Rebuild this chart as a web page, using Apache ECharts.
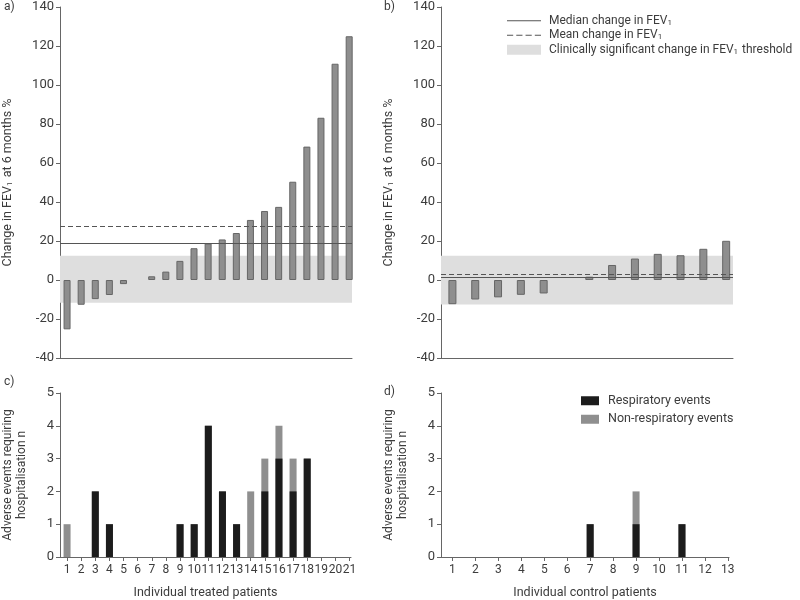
<!DOCTYPE html>
<html>
<head>
<meta charset="utf-8">
<title>FEV1 change and adverse events</title>
<script src="https://cdn.jsdelivr.net/npm/echarts@6/dist/echarts.min.js"></script>
<style>
  html, body { margin: 0; padding: 0; background: #fff; }
  #chart { width: 800px; height: 600px; }
</style>
</head>
<body>
<div id="chart"></div>
<script>
// patient numbers on the x axes
const treatedIds = [1, 2, 3, 4, 5, 6, 7, 8, 9, 10, 11, 12, 13, 14, 15, 16, 17, 18, 19, 20, 21]
const controlIds = [1, 2, 3, 4, 5, 6, 7, 8, 9, 10, 11, 12, 13]

// a) / b) change in FEV1 at 6 months, %
const treatedFevChange = [-25.3, -12.7, -9.8, -7.7, -2.1, null, 1.9, 4.3, 9.8, 16.3, 18.7, 20.8, 24.1, 30.8, 35.4, 37.5, 50.4, 68.4, 83.2, 110.9, 125]
const controlFevChange = [-12.4, -10, -8.9, -7.6, -6.9, null, 1.7, 7.7, 11, 13.4, 12.7, 16, 20.1]
const treatedMedian = 18.7
const treatedMean = 27.7
const controlMedian = 1.4
const controlMean = 2.8
const treatedThreshold = [-11.7, 12.4]
const controlThreshold = [-12.5, 12.4]
const fevTicks = [-40, 140, 20] // min, max, interval

// c) / d) adverse events requiring hospitalisation
const treatedResp = [0, 0, 2, 1, 0, 0, 0, 0, 1, 1, 4, 2, 1, 0, 2, 3, 2, 3, 0, 0, 0]
const treatedNonResp = [1, 0, 0, 0, 0, 0, 0, 0, 0, 0, 0, 0, 0, 2, 1, 1, 1, 0, 0, 0, 0]
const controlResp = [0, 0, 0, 0, 0, 0, 1, 0, 1, 0, 1, 0, 0]
const controlNonResp = [0, 0, 0, 0, 0, 0, 0, 0, 1, 0, 0, 0, 0]

const MEDIAN = 'Median change in FEV1'
const MEAN = 'Mean change in FEV1'
const BAND = 'Clinically significant change in FEV1 threshold'
const RESP = 'Respiratory events'
const NONRESP = 'Non-respiratory events'

const FONT = 'Roboto, sans-serif'
const TEXT = '#3c3c3c'
const AXIS = '#666'
const LINE = '#555'
const BAR_GREY = '#8e8e8e'
const BAND_GREY = '#dedede'

// legend icons: thin solid / dashed strokes
const SOLID_ICON = 'path://M0,0h33v1h-33z'
const DASH_ICON = 'path://M0,0h6v1h-6z M9,0h6v1h-6z M18,0h6v1h-6z M27,0h6v1h-6z'

function subRich(size) {
  return { sub: { fontSize: size, fontFamily: FONT, color: TEXT, padding: [4, 1, 0, 0] } }
}

function pairs(ids, values) {
  return ids.map((id, i) => [id, values[i]])
}

function fevYAxis(gridIndex) {
  return {
    type: 'value',
    gridIndex: gridIndex,
    min: fevTicks[0],
    max: fevTicks[1],
    interval: fevTicks[2],
    name: 'Change in FEV{sub|1} at 6 months %',
    nameLocation: 'middle',
    nameGap: 46,
    nameTextStyle: { fontFamily: FONT, fontSize: 12.5, color: TEXT, rich: subRich(8) },
    axisLine: { show: true, lineStyle: { color: AXIS } },
    axisTick: { show: true, length: 4, lineStyle: { color: AXIS } },
    axisLabel: { fontFamily: FONT, fontSize: 13, color: TEXT, margin: 6 },
    splitLine: { show: false }
  }
}

function eventsYAxis(gridIndex) {
  return {
    type: 'value',
    gridIndex: gridIndex,
    min: 0,
    max: 5,
    interval: 1,
    name: 'Adverse events requiring\nhospitalisation n',
    nameLocation: 'middle',
    nameGap: 31,
    nameTextStyle: { fontFamily: FONT, fontSize: 12, color: TEXT, lineHeight: 14 },
    axisLine: { show: true, lineStyle: { color: AXIS } },
    axisTick: { show: true, length: 4, lineStyle: { color: AXIS } },
    axisLabel: { fontFamily: FONT, fontSize: 13, color: TEXT, margin: 6 },
    splitLine: { show: false }
  }
}

function plainXAxis(gridIndex, max) {
  return {
    type: 'value',
    gridIndex: gridIndex,
    min: 0.5,
    max: max,
    axisLine: { show: true, onZero: false, lineStyle: { color: AXIS } },
    axisTick: { show: false },
    axisLabel: { show: false },
    splitLine: { show: false }
  }
}

function patientXAxis(gridIndex, ids, max, name) {
  return {
    type: 'value',
    gridIndex: gridIndex,
    min: 0.5,
    max: max,
    name: name,
    nameLocation: 'middle',
    nameGap: 29,
    nameTextStyle: { fontFamily: FONT, fontSize: 12.5, color: TEXT },
    axisLine: { show: true, onZero: false, lineStyle: { color: AXIS } },
    axisTick: { show: true, length: 4, customValues: ids, lineStyle: { color: AXIS } },
    axisLabel: { fontFamily: FONT, fontSize: 12, color: TEXT, margin: 7, customValues: ids, hideOverlap: false },
    splitLine: { show: false }
  }
}

function refLine(name, axisIndex, value, dash) {
  return {
    name: name,
    type: 'line',
    xAxisIndex: axisIndex,
    yAxisIndex: axisIndex,
    data: [],
    symbol: 'none',
    color: LINE,
    z: 3,
    markLine: {
      silent: true,
      symbol: 'none',
      label: { show: false },
      lineStyle: { color: LINE, width: 1, type: dash ? [5, 3] : 'solid' },
      data: [{ yAxis: value }]
    }
  }
}

function fevSeries(axisIndex, ids, values, band, median, mean, barWidth) {
  return [
    {
      name: BAND,
      type: 'bar',
      xAxisIndex: axisIndex,
      yAxisIndex: axisIndex,
      data: [],
      itemStyle: { color: BAND_GREY },
      z: 1,
      markArea: {
        silent: true,
        itemStyle: { color: BAND_GREY },
        data: [[{ yAxis: band[0] }, { yAxis: band[1] }]]
      }
    },
    {
      type: 'bar',
      xAxisIndex: axisIndex,
      yAxisIndex: axisIndex,
      data: pairs(ids, values),
      barWidth: barWidth,
      itemStyle: { color: BAR_GREY, borderColor: '#666', borderWidth: 1 },
      z: 2
    },
    refLine(MEDIAN, axisIndex, median, false),
    refLine(MEAN, axisIndex, mean, true)
  ]
}

// grey bar = all events, black respiratory bar drawn over it from zero
function eventSeries(axisIndex, ids, resp, nonResp) {
  const total = resp.map((v, i) => v + nonResp[i])
  return [
    {
      name: NONRESP,
      type: 'bar',
      xAxisIndex: axisIndex,
      yAxisIndex: axisIndex,
      barWidth: 7,
      barGap: '-100%',
      data: pairs(ids, total),
      itemStyle: { color: '#8f8f8f' },
      z: 2
    },
    {
      name: RESP,
      type: 'bar',
      xAxisIndex: axisIndex,
      yAxisIndex: axisIndex,
      barWidth: 7,
      barGap: '-100%',
      data: pairs(ids, resp),
      itemStyle: { color: '#1c1c1c' },
      z: 3
    }
  ]
}

const chart = echarts.init(document.getElementById('chart'), null, { renderer: 'canvas' })

chart.setOption({
  animation: false,
  textStyle: { fontFamily: FONT },
  grid: [
    { left: 60, top: 7, width: 292, height: 351 },
    { left: 441, top: 7, width: 292, height: 351 },
    { left: 60, top: 393, width: 291, height: 170 },
    { left: 441, top: 393, width: 288, height: 170 }
  ],
  xAxis: [
    plainXAxis(0, 21.2),
    plainXAxis(1, 13.3),
    patientXAxis(2, treatedIds, 21.1, 'Individual treated patients'),
    patientXAxis(3, controlIds, 13.05, 'Individual control patients')
  ],
  yAxis: [fevYAxis(0), fevYAxis(1), eventsYAxis(2), eventsYAxis(3)],
  legend: [
    {
      left: 507,
      top: 14,
      padding: 0,
      orient: 'vertical',
      itemWidth: 34,
      itemHeight: 10,
      itemGap: 1,
      selectedMode: false,
      formatter: (name) => name.replace('FEV1', 'FEV{sub|1}'),
      textStyle: { fontFamily: FONT, fontSize: 12, color: TEXT, lineHeight: 13.5, padding: [0, 0, 0, 3], rich: subRich(8) },
      data: [
        { name: MEDIAN, icon: SOLID_ICON },
        { name: MEAN, icon: DASH_ICON },
        { name: BAND, icon: 'rect' }
      ]
    },
    {
      left: 581,
      top: 393,
      padding: 0,
      orient: 'vertical',
      itemWidth: 18,
      itemHeight: 9,
      itemGap: 3,
      icon: 'rect',
      selectedMode: false,
      textStyle: { fontFamily: FONT, fontSize: 12.5, color: TEXT, lineHeight: 15.5, padding: [0, 0, 0, 4] },
      data: [RESP, NONRESP]
    }
  ],
  graphic: [
    { type: 'text', left: 4, top: 1, style: { text: 'a)', font: '12px ' + FONT, fill: TEXT } },
    { type: 'text', left: 384, top: 1, style: { text: 'b)', font: '12px ' + FONT, fill: TEXT } },
    { type: 'text', left: 4, top: 376, style: { text: 'c)', font: '12px ' + FONT, fill: TEXT } },
    { type: 'text', left: 384, top: 386, style: { text: 'd)', font: '12px ' + FONT, fill: TEXT } }
  ],
  series: [
    ...fevSeries(0, treatedIds, treatedFevChange, treatedThreshold, treatedMedian, treatedMean, 7),
    ...fevSeries(1, controlIds, controlFevChange, controlThreshold, controlMedian, controlMean, 8),
    ...eventSeries(2, treatedIds, treatedResp, treatedNonResp),
    ...eventSeries(3, controlIds, controlResp, controlNonResp)
  ]
})
</script>
</body>
</html>
